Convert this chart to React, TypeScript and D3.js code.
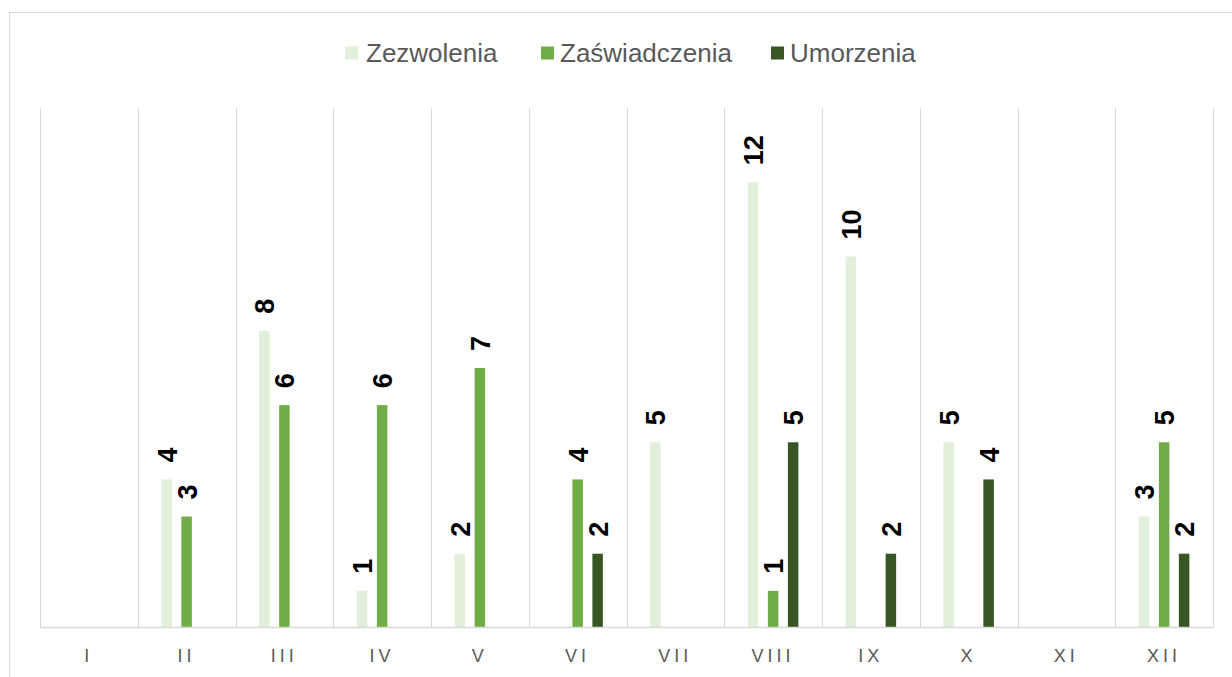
import React from "react";
import * as d3 from "d3";

const categories = ["I", "II", "III", "IV", "V", "VI", "VII", "VIII", "IX", "X", "XI", "XII"];
const seriesNames = ["Zezwolenia", "Zaświadczenia", "Umorzenia"];
const zezwolenia = [0, 4, 8, 1, 2, 0, 5, 12, 10, 5, 0, 3];
const zaswiadczenia = [0, 3, 6, 6, 7, 4, 0, 1, 0, 0, 0, 5];
const umorzenia = [0, 0, 0, 0, 0, 2, 0, 5, 2, 4, 0, 2];
const seriesColors = ["#e2efda", "#70ad47", "#375623"];
const yMax = 14;

const W = 1232;
const H = 677;
const plotLeft = 40;
const plotRight = 1213;
const plotTop = 108;
const plotBottom = 628;

export default function App() {
  const seriesValues = [zezwolenia, zaswiadczenia, umorzenia];
  const x0 = d3.scaleBand<string>().domain(categories).range([plotLeft, plotRight]).padding(0);
  const x1 = d3
    .scaleBand<string>()
    .domain(seriesNames)
    .range([0, 60])
    .paddingInner(0.475)
    .paddingOuter(0.2375);
  const y = d3.scaleLinear().domain([0, yMax]).range([plotBottom, plotTop]);

  const bw = x0.bandwidth();
  const boundaries = categories.map((c) => x0(c) as number).concat([plotRight]);

  // legend layout
  const legendFont = 26;
  const swatch = 13;
  const legendItems = [
    { name: seriesNames[0], sx: 345, tx: 366 },
    { name: seriesNames[1], sx: 541, tx: 560 },
    { name: seriesNames[2], sx: 771, tx: 790 },
  ];
  const legendY = 53;

  return (
    <div style={{ position: "absolute", left: 0, top: 0, width: W, height: H, overflow: "hidden", background: "#fff" }}>
      <svg width={W} height={H} style={{ display: "block", fontFamily: "'Liberation Sans', Arial, sans-serif" }}>
        <rect x={9.5} y={12.5} width={W + 20} height={H + 20} fill="#fff" stroke="#d9d9d9" strokeWidth={1} />
        {/* gridlines (vertical category separators) */}
        {boundaries.map((bx, i) => (
          <line key={"g" + i} x1={Math.round(bx) + 0.5} x2={Math.round(bx) + 0.5} y1={plotTop} y2={plotBottom} stroke="#d9d9d9" strokeWidth={1} />
        ))}
        {/* bars */}
        {categories.map((c, ci) => {
          const bandCenter = (x0(c) as number) + bw / 2;
          return seriesNames.map((s, si) => {
            const v = seriesValues[si][ci];
            if (!v) return null;
            const bx = bandCenter - 30 + (x1(s) as number);
            const top = y(v);
            return (
              <g key={c + s}>
                <rect x={bx} y={top} width={x1.bandwidth()} height={y(0) - top} fill={seriesColors[si]} />
                <text
                  transform={`translate(${bx + x1.bandwidth() / 2 + 10},${top - 17}) rotate(-90)`}
                  fontSize={27}
                  fontWeight="bold"
                  fill="#000"
                >
                  {v}
                </text>
              </g>
            );
          });
        })}
        {/* baseline */}
        <line x1={plotLeft} x2={plotRight + 1} y1={plotBottom - 0.5} y2={plotBottom - 0.5} stroke="#d9d9d9" strokeWidth={1.5} />
        {/* category labels */}
        {categories.map((c) => (
          <text
            key={"l" + c}
            x={(x0(c) as number) + bw / 2}
            y={662}
            textAnchor="middle"
            fontSize={18}
            letterSpacing={4}
            fill="#595959"
          >
            {c}
          </text>
        ))}
        {/* legend */}
        {legendItems.map((it, i) => (
          <g key={"lg" + i}>
            <rect x={it.sx} y={legendY - swatch / 2} width={swatch} height={swatch} fill={seriesColors[i]} />
            <text x={it.tx} y={legendY + 9} fontSize={legendFont} fill="#595959">
              {it.name}
            </text>
          </g>
        ))}
      </svg>
    </div>
  );
}
